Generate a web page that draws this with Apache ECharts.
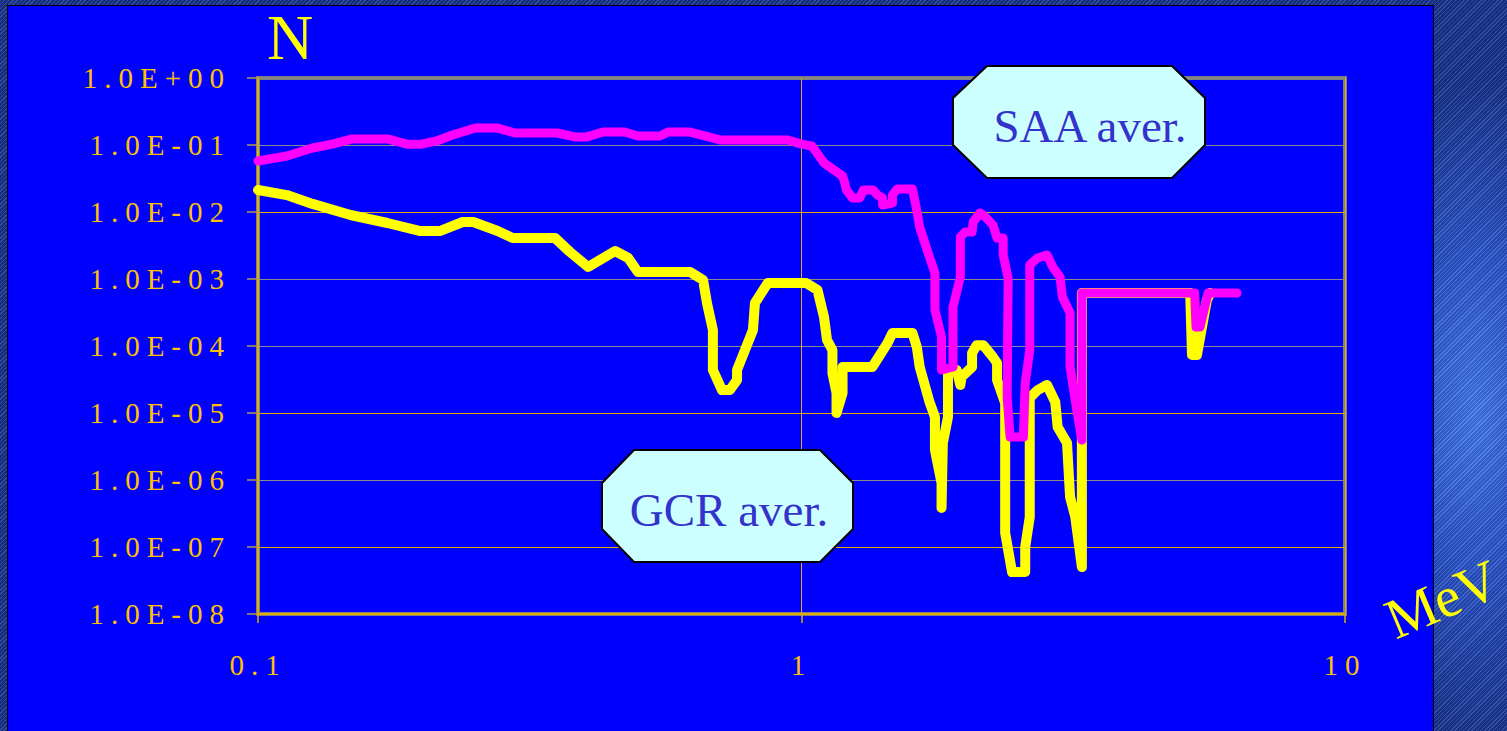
<!DOCTYPE html>
<html>
<head>
<meta charset="utf-8">
<script src="https://cdn.jsdelivr.net/npm/echarts@6/dist/echarts.min.js"></script>
<style>
html,body{margin:0;padding:0;width:1507px;height:731px;overflow:hidden;}
body{
  background:
    repeating-linear-gradient(135deg, rgba(255,255,255,0.13) 0px, rgba(255,255,255,0.13) 1px, rgba(0,0,0,0.12) 1px, rgba(0,0,0,0.12) 3px),
    radial-gradient(ellipse 140px 330px at 1475px 410px, #4479f2 0%, #2b57d2 45%, #17338f 100%);
}
#panel{position:absolute;left:7px;top:5px;width:1425px;height:740px;background:#0000FF;border:1px solid #000;}
#chart{position:absolute;left:0;top:0;width:1507px;height:731px;}
</style>
</head>
<body>
<div id="panel"></div>
<div id="chart"></div>
<script>
// ---- data (energy in MeV, N) ----
const xTickLabels = ['0.1', '1', '10'];
const yTickLabels = ['1.0E+00','1.0E-01','1.0E-02','1.0E-03','1.0E-04','1.0E-05','1.0E-06','1.0E-07','1.0E-08'];

const gcrEnergy = [0.1,0.113,0.126,0.148,0.173,0.199,0.216,0.238,0.249,0.276,0.294,0.352,0.375,0.405,0.454,0.480,0.500,0.624,0.659,0.670,0.687,0.687,0.714,0.738,0.761,0.761,0.814,0.821,0.867,1.02,1.07,1.10,1.114,1.14,1.14,1.16,1.16,1.19,1.19,1.35,1.44,1.47,1.60,1.63,1.65,1.72,1.76,1.76,1.81,1.81,1.82,1.86,1.86,1.93,1.96,1.97,2.06,2.06,2.10,2.16,2.25,2.29,2.29,2.37,2.37,2.44,2.58,2.58,2.63,2.63,2.72,2.83,2.93,2.96,3.08,3.12,3.19,3.28,3.28,5.19,5.23,5.34,5.57,5.65];
const gcrN = [0.0213,0.0179,0.0132,0.00902,0.00685,0.00520,0.00520,0.00709,0.00709,0.00520,0.00409,0.00409,0.00253,0.00151,0.00262,0.00206,0.00127,0.00127,0.000966,0.000438,0.000173,0.0000438,0.0000220,0.0000220,0.0000311,0.0000438,0.000173,0.000438,0.000871,0.000871,0.000685,0.000271,0.000123,0.0000871,0.0000395,0.0000199,0.0000100,0.0000199,0.0000486,0.0000486,0.000111,0.000156,0.000156,0.0000966,0.0000486,0.0000146,0.00000871,0.00000280,9.02e-7,3.82e-7,0.00000357,0.00000871,0.0000409,0.0000438,0.0000262,0.0000345,0.0000486,0.0000787,0.000103,0.000103,0.0000685,0.0000557,0.0000311,0.0000141,1.62e-7,4.23e-8,4.23e-8,1.0e-7,2.80e-7,0.0000168,0.0000220,0.0000262,0.0000146,0.00000618,0.00000357,5.57e-7,2.80e-7,5.03e-8,0.000618,0.000618,0.0000734,0.0000734,0.000486,0.000618];

const saaEnergy = [0.1,0.113,0.126,0.137,0.149,0.173,0.188,0.200,0.213,0.228,0.251,0.276,0.297,0.355,0.383,0.403,0.431,0.473,0.500,0.549,0.568,0.624,0.708,0.944,1.00,1.045,1.10,1.19,1.20,1.21,1.24,1.28,1.30,1.355,1.38,1.41,1.41,1.47,1.47,1.50,1.60,1.62,1.65,1.71,1.76,1.76,1.81,1.81,1.90,1.90,1.96,1.96,2.00,2.06,2.07,2.13,2.18,2.25,2.29,2.35,2.35,2.40,2.39,2.42,2.56,2.58,2.63,2.63,2.72,2.83,2.90,2.99,3.02,3.12,3.12,3.21,3.28,3.28,5.29,5.32,5.41,5.60,6.33];
const saaN = [0.0577,0.0685,0.0902,0.103,0.123,0.123,0.103,0.103,0.115,0.141,0.179,0.179,0.151,0.151,0.132,0.132,0.156,0.156,0.136,0.136,0.156,0.156,0.119,0.119,0.103,0.0966,0.0539,0.0345,0.0280,0.0213,0.0162,0.0162,0.0213,0.0213,0.0179,0.0162,0.0127,0.0136,0.0179,0.0220,0.0220,0.0136,0.00597,0.00244,0.00123,0.000345,0.000136,0.0000438,0.0000486,0.000382,0.00107,0.00423,0.00503,0.00503,0.00709,0.00966,0.00842,0.00640,0.00409,0.00409,0.00228,0.00103,0.0000173,0.00000438,0.00000438,0.0000280,0.0000871,0.00162,0.00206,0.00228,0.00151,0.00107,0.000539,0.000311,0.0000486,0.0000111,0.00000395,0.000618,0.000618,0.000192,0.000192,0.000618,0.000618];

const GOLD = '#E0AE00';
const GRAY = '#8A8A8A';
const labelColor = '#FFC000';
const serif = '"Liberation Serif", "Times New Roman", serif';

const chart = echarts.init(document.getElementById('chart'), null, {renderer: 'svg'});

chart.setOption({
  animation: false,
  backgroundColor: 'transparent',
  grid: {
    left: 258, top: 78, width: 1087, height: 536,
    show: true, borderColor: '#808080', borderWidth: 4, backgroundColor: 'transparent'
  },
  xAxis: {
    type: 'log', logBase: 10, min: 0.1, max: 10,
    axisLine: {show: true, onZero: false, lineStyle: {color: GOLD, width: 2}},
    axisTick: {show: true, length: 9, lineStyle: {color: GOLD, width: 1.5}},
    axisLabel: {
      margin: 36, color: labelColor, fontFamily: serif, fontSize: 29,
      formatter: v => xTickLabels[Math.round(Math.log10(v)) + 1]
    },
    splitLine: {show: true, lineStyle: {color: GOLD, width: 1}},
    minorTick: {show: false}, minorSplitLine: {show: false}
  },
  yAxis: {
    type: 'log', logBase: 10, min: 1e-8, max: 1, splitNumber: 8,
    axisLine: {show: true, onZero: false, lineStyle: {color: GOLD, width: 2}},
    axisTick: {show: true, length: 11, lineStyle: {color: '#B09A50', width: 1.5}},
    axisLabel: {
      margin: 27, color: labelColor, fontFamily: serif, fontSize: 29,
      formatter: v => yTickLabels[-Math.round(Math.log10(v))]
    },
    splitLine: {show: true, lineStyle: {color: [GOLD, GOLD, GRAY, GOLD, GRAY, GRAY, GOLD, GRAY, GRAY], width: 1.2}},
    minorTick: {show: false}, minorSplitLine: {show: false}
  },
  series: [
    {
      name: 'GCR aver.', type: 'line', symbol: 'none', showSymbol: false, clip: false, z: 3,
      data: gcrEnergy.map((e, i) => [e, gcrN[i]]),
      lineStyle: {color: '#FFFF00', width: 10, cap: 'round', join: 'round'}
    },
    {
      name: 'SAA aver.', type: 'line', symbol: 'none', showSymbol: false, clip: false, z: 4,
      data: saaEnergy.map((e, i) => [e, saaN[i]]),
      lineStyle: {color: '#FF00FF', width: 9, cap: 'round', join: 'round'}
    }
  ],
  graphic: [
    {
      type: 'polygon', z: 100,
      shape: {points: [[987,66],[1172,66],[1205,98],[1205,145],[1172,178],[987,178],[953,145],[953,98]]},
      style: {fill: '#CCFFFF', stroke: '#000000', lineWidth: 2}
    },
    {
      type: 'text', z: 101, x: 1090, y: 126,
      style: {text: 'SAA aver.', font: '47px ' + serif, fill: '#3333CC', align: 'center', verticalAlign: 'middle'}
    },
    {
      type: 'polygon', z: 100,
      shape: {points: [[634,450],[820,450],[853,483],[853,529],[820,562],[634,562],[602,529],[602,483]]},
      style: {fill: '#CCFFFF', stroke: '#000000', lineWidth: 2}
    },
    {
      type: 'text', z: 101, x: 729, y: 510,
      style: {text: 'GCR aver.', font: '47px ' + serif, fill: '#3333CC', align: 'center', verticalAlign: 'middle'}
    },
    {
      type: 'text', z: 101, x: 290, y: 37,
      style: {text: 'N', font: '64px ' + serif, fill: '#FFFF00', align: 'center', verticalAlign: 'middle'}
    },
    {
      type: 'text', z: 101, x: 1442, y: 599, rotation: 23 * Math.PI / 180,
      style: {text: 'MeV', font: '57px ' + serif, fill: '#FFFF00', align: 'center', verticalAlign: 'middle'}
    }
  ]
});

// widen the tick labels like the original's spaced-out lettering
function spaceTickLabels() {
  document.querySelectorAll('#chart text').forEach(t => {
    const s = t.textContent;
    if (yTickLabels.includes(s) || xTickLabels.includes(s)) {
      t.style.letterSpacing = '7px';
    }
  });
}
chart.on('finished', spaceTickLabels);
spaceTickLabels();
setTimeout(spaceTickLabels, 0);
setTimeout(spaceTickLabels, 200);
</script>
</body>
</html>
